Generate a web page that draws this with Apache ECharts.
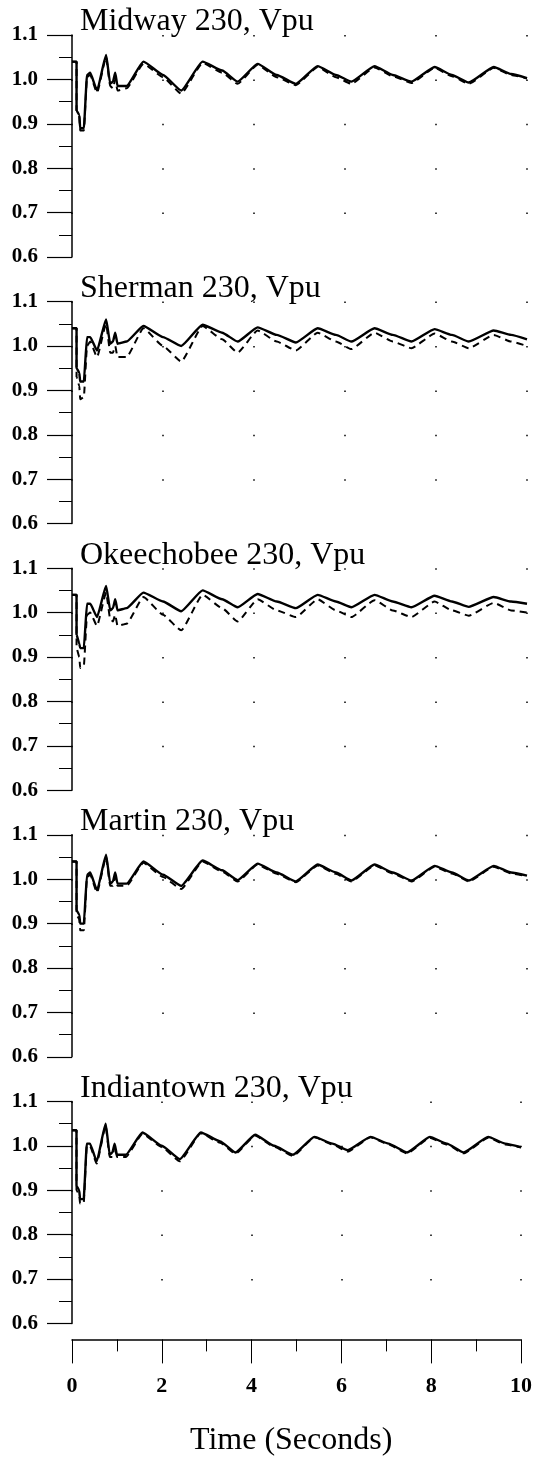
<!DOCTYPE html>
<html>
<head>
<meta charset="utf-8">
<script src="https://cdn.jsdelivr.net/npm/echarts@6/dist/echarts.min.js"></script>
<style>
  html, body { margin: 0; padding: 0; background: #fff; }
  #root { width: 535px; height: 1461px; }
</style>
</head>
<body>
<div id="root"></div>
<script>
// time points (seconds) shared by every trace
let time = [0, 0.1, 0.1, 0.16, 0.18, 0.26, 0.33, 0.4, 0.55, 0.75, 0.84, 0.9, 0.95, 1.0, 1.2, 1.57,
  2.0, 2.4, 2.87, 3.3, 3.64, 4.08, 4.5, 4.92, 5.4, 5.8, 6.14, 6.65, 7.05, 7.46, 7.97, 8.35, 8.72, 9.27, 9.65, 10];

let stations = ['Midway 230, Vpu', 'Sherman 230, Vpu', 'Okeechobee 230, Vpu', 'Martin 230, Vpu', 'Indiantown 230, Vpu'];

let midwaySolid = [1.04, 1.04, 0.93, 0.92, 0.89, 0.89, 1.01, 1.015, 0.975, 1.055, 0.99, 0.995, 1.015, 0.985, 0.985, 1.04,
  1.01, 0.975, 1.04, 1.02, 0.995, 1.035, 1.01, 0.99, 1.03, 1.01, 0.995, 1.03, 1.01, 0.995, 1.028, 1.01, 0.993, 1.028, 1.012, 1.003];
let midwayDashed = [1.04, 1.04, 0.93, 0.92, 0.885, 0.885, 1.005, 1.01, 0.97, 1.05, 0.985, 0.98, 1.0, 0.975, 0.98, 1.035,
  1.005, 0.968, 1.037, 1.015, 0.99, 1.033, 1.005, 0.987, 1.028, 1.005, 0.99, 1.027, 1.007, 0.992, 1.026, 1.007, 0.99, 1.026, 1.01, 1.002];

let shermanSolid = [1.04, 1.04, 0.95, 0.94, 0.92, 0.92, 1.02, 1.02, 0.99, 1.06, 1.005, 1.01, 1.03, 1.005, 1.01, 1.045,
  1.02, 1.0, 1.048, 1.03, 1.01, 1.042, 1.025, 1.008, 1.04, 1.025, 1.01, 1.04, 1.025, 1.01, 1.038, 1.025, 1.01, 1.035, 1.025, 1.015];
let shermanDashed = [1.04, 1.04, 0.93, 0.91, 0.88, 0.885, 1.0, 1.01, 0.975, 1.05, 0.985, 0.985, 1.0, 0.975, 0.975, 1.04,
  1.0, 0.965, 1.045, 1.015, 0.985, 1.035, 1.01, 0.99, 1.03, 1.01, 0.993, 1.03, 1.01, 0.995, 1.028, 1.01, 0.995, 1.025, 1.01, 1.0];

let okeechobeeSolid = [1.04, 1.04, 0.95, 0.93, 0.92, 0.92, 1.02, 1.02, 0.99, 1.06, 1.005, 1.01, 1.03, 1.005, 1.01, 1.045,
  1.025, 1.003, 1.05, 1.03, 1.012, 1.042, 1.025, 1.01, 1.04, 1.025, 1.012, 1.04, 1.025, 1.012, 1.038, 1.025, 1.013, 1.035, 1.025, 1.02];
let okeechobeeDashed = [1.04, 1.04, 0.92, 0.9, 0.875, 0.88, 0.995, 1.0, 0.97, 1.045, 0.985, 0.98, 0.995, 0.97, 0.975, 1.035,
  0.995, 0.96, 1.04, 1.01, 0.98, 1.03, 1.005, 0.99, 1.03, 1.005, 0.99, 1.028, 1.005, 0.99, 1.025, 1.005, 0.993, 1.022, 1.005, 1.0];

let martinSolid = [1.04, 1.04, 0.93, 0.92, 0.9, 0.9, 1.01, 1.015, 0.975, 1.055, 0.99, 0.995, 1.015, 0.99, 0.99, 1.04,
  1.01, 0.985, 1.042, 1.02, 0.998, 1.035, 1.015, 0.995, 1.033, 1.015, 0.997, 1.033, 1.015, 0.997, 1.03, 1.015, 0.997, 1.03, 1.015, 1.008];
let martinDashed = [1.04, 1.04, 0.92, 0.91, 0.885, 0.885, 1.005, 1.01, 0.97, 1.05, 0.985, 0.985, 1.005, 0.985, 0.985, 1.037,
  1.005, 0.978, 1.04, 1.017, 0.995, 1.033, 1.012, 0.993, 1.031, 1.012, 0.995, 1.031, 1.013, 0.995, 1.028, 1.013, 0.995, 1.028, 1.013, 1.007];

let indiantownSolid = [1.035, 1.035, 0.91, 0.9, 0.88, 0.88, 1.005, 1.005, 0.965, 1.05, 0.98, 0.985, 1.005, 0.98, 0.98, 1.03,
  1.0, 0.97, 1.03, 1.01, 0.985, 1.025, 1.0, 0.98, 1.02, 1.005, 0.99, 1.02, 1.005, 0.985, 1.02, 1.005, 0.985, 1.02, 1.005, 0.997];
let indiantownDashed = [1.035, 1.035, 0.9, 0.89, 0.87, 0.87, 1.0, 1.0, 0.96, 1.045, 0.975, 0.975, 1.0, 0.975, 0.975, 1.027,
  0.997, 0.965, 1.028, 1.007, 0.982, 1.023, 0.998, 0.977, 1.019, 1.003, 0.987, 1.019, 1.003, 0.983, 1.018, 1.003, 0.983, 1.018, 1.003, 0.996];

let solidTraces = [midwaySolid, shermanSolid, okeechobeeSolid, martinSolid, indiantownSolid];
let dashedTraces = [midwayDashed, shermanDashed, okeechobeeDashed, martinDashed, indiantownDashed];

let yTicks = [0.6, 0.7, 0.8, 0.9, 1.0, 1.1];
let xTicks = [0, 2, 4, 6, 8, 10];

let serif = '"Liberation Serif", "DejaVu Serif", serif';
let gridTop0 = 35, gridStep = 266.6, gridH = 222;

let root = document.getElementById('root');
let myCharts = echarts.init(root);

let pairs = (vals) => time.map((t, i) => [t, vals[i]]);

let grids = [], xAxes = [], yAxes = [], series = [], graphics = [];
stations.forEach((name, i) => {
  let top = gridTop0 + i * gridStep;
  let last = i === stations.length - 1;
  grids.push({ left: 72, right: 8, top: top, height: gridH });
  xAxes.push({
    gridIndex: i,
    type: 'value',
    min: xTicks[0],
    max: xTicks[xTicks.length - 1],
    interval: 2,
    offset: last ? 16 : 0,
    axisLine: { show: last, lineStyle: { color: '#000', width: 1.5 } },
    axisTick: { show: last, length: 24, lineStyle: { color: '#000', width: 1 } },
    minorTick: { show: last, splitNumber: 2, length: 12, lineStyle: { color: '#000', width: 1 } },
    axisLabel: {
      show: last, margin: 36, color: '#000',
      fontFamily: serif, fontWeight: 'bold', fontSize: 22
    },
    splitLine: {
      show: true,
      lineStyle: { color: '#000', width: 1.5, type: [1.5, gridH / 5 - 1.5] }
    }
  });
  yAxes.push({
    gridIndex: i,
    type: 'value',
    min: yTicks[0],
    max: yTicks[yTicks.length - 1],
    interval: 0.1,
    axisLine: { show: true, lineStyle: { color: '#000', width: 1.5 } },
    axisTick: { show: true, length: 25, lineStyle: { color: '#000', width: 1.2 } },
    minorTick: { show: true, splitNumber: 2, length: 13, lineStyle: { color: '#000', width: 1 } },
    axisLabel: {
      margin: 34, color: '#000', fontFamily: serif, fontWeight: 'bold', fontSize: 21,
      formatter: (v) => v.toFixed(1)
    },
    splitLine: { show: false }
  });
  series.push({
    type: 'line', xAxisIndex: i, yAxisIndex: i, data: pairs(solidTraces[i]),
    showSymbol: false, smooth: 0.15, smoothMonotone: 'x',
    lineStyle: { color: '#000', width: 2.4 }, z: 3
  });
  series.push({
    type: 'line', xAxisIndex: i, yAxisIndex: i, data: pairs(dashedTraces[i]),
    showSymbol: false, smooth: 0.15, smoothMonotone: 'x',
    lineStyle: { color: '#000', width: 2, type: [7, 5] }, z: 2
  });
  graphics.push({
    type: 'text', left: 80, top: top - 29,
    style: { text: name, font: '32px ' + serif, fill: '#000' }
  });
});

graphics.push({
  type: 'text', left: 190, top: 1425,
  style: { text: 'Time (Seconds)', font: '32px ' + serif, fill: '#000' }
});

let option = {
  animation: false,
  backgroundColor: '#fff',
  grid: grids,
  xAxis: xAxes,
  yAxis: yAxes,
  series: series,
  graphic: graphics
};
myCharts.setOption(option);
</script>
</body>
</html>
